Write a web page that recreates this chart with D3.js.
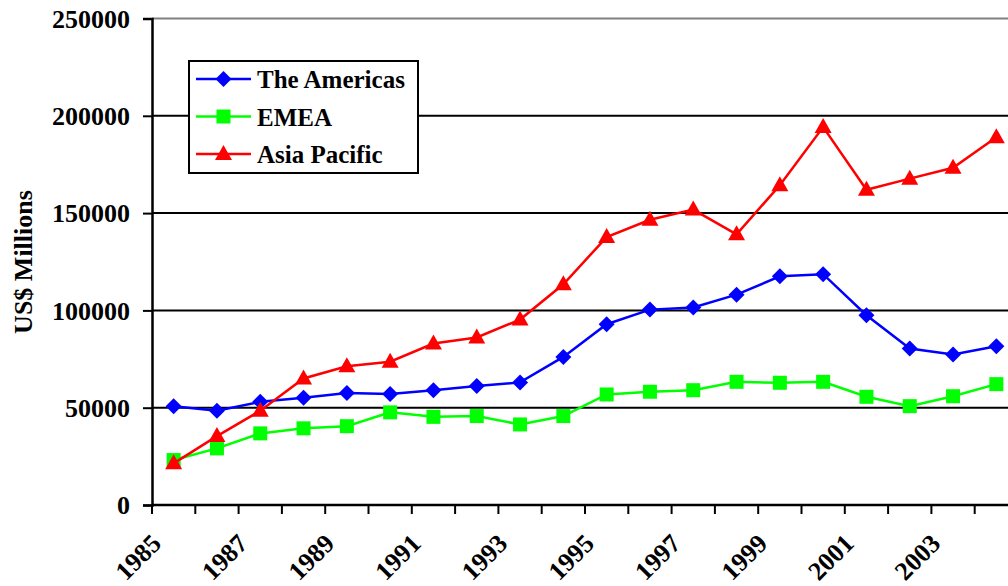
<!DOCTYPE html>
<html>
<head>
<meta charset="utf-8">
<script src="https://cdn.jsdelivr.net/npm/d3@7"></script>
<style>
  html, body { margin: 0; padding: 0; background: #fff; overflow: hidden; }
  svg { display: block; }
  text { font-family: "Liberation Serif", "Times New Roman", serif; font-weight: bold; fill: #000; }
</style>
</head>
<body>
<svg id="chart" width="1008" height="586"></svg>
<script>
// Revenue by region, US$ millions
const years = [1985, 1986, 1987, 1988, 1989, 1990, 1991, 1992, 1993, 1994,
               1995, 1996, 1997, 1998, 1999, 2000, 2001, 2002, 2003, 2004];
const americas = [50800, 48400, 53000, 55100, 57600, 57000, 59000, 61100, 63000, 76100,
                  92900, 100400, 101500, 108100, 117500, 118600, 97500, 80400, 77300, 81600];
const emea = [23100, 29100, 36800, 39400, 40500, 47600, 45300, 45700, 41400, 45700,
              56800, 58200, 59000, 63300, 62800, 63300, 55600, 50800, 55900, 62100];
const asiaPacific = [21400, 35400, 48400, 65000, 71300, 73600, 83000, 86100, 95300, 113400,
                     137700, 146600, 151800, 139100, 164300, 194200, 162000, 167700, 173300, 189000];
const yTicks = [0, 50000, 100000, 150000, 200000, 250000];
const seriesNames = ["The Americas", "EMEA", "Asia Pacific"];

const series = [
  { name: seriesNames[0], values: americas, color: "#0000FF", shape: "diamond" },
  { name: seriesNames[1], values: emea, color: "#00FF00", shape: "square" },
  { name: seriesNames[2], values: asiaPacific, color: "#FF0000", shape: "triangle" }
];

const svg = d3.select("#chart");
const plot = { left: 152, right: 1018, top: 18.5, bottom: 505 };

const x = d3.scaleBand().domain(years).range([plot.left, plot.right]);
const y = d3.scaleLinear().domain([0, 250000]).range([plot.bottom, plot.top]);
const cx = d => x(d) + x.bandwidth() / 2;

// Horizontal gridlines (top one is the plot frame, drawn grey)
svg.append("g").selectAll("line")
  .data(yTicks.filter(t => t > 0))
  .join("line")
  .attr("x1", plot.left).attr("x2", plot.right)
  .attr("y1", d => y(d)).attr("y2", d => y(d))
  .attr("stroke", d => d === 250000 ? "#808080" : "#000")
  .attr("stroke-width", 2);

// Y axis
const yAxis = svg.append("g")
  .attr("transform", `translate(${plot.left},0)`)
  .call(d3.axisLeft(y).tickValues(yTicks).tickSize(9).tickPadding(13).tickFormat(d3.format("d")));
yAxis.select(".domain").attr("stroke", "#000").attr("stroke-width", 2.5);
yAxis.selectAll(".tick line").attr("stroke", "#000").attr("stroke-width", 2);
yAxis.selectAll(".tick text")
  .attr("font-size", 26).attr("dy", "0.34em")
  .style("font-family", "'Liberation Serif', serif").style("font-weight", "bold");

// X axis: ticks at band edges, labels every other year
const xAxis = svg.append("g")
  .attr("transform", `translate(0,${plot.bottom})`);
xAxis.append("line")
  .attr("x1", plot.left).attr("x2", plot.right)
  .attr("stroke", "#000").attr("stroke-width", 2.5);
const edges = years.map(d => x(d)).concat([x(years[years.length - 1]) + x.bandwidth()]);
xAxis.selectAll("line.tick")
  .data(edges)
  .join("line")
  .attr("class", "tick")
  .attr("x1", d => d).attr("x2", d => d)
  .attr("y1", 0).attr("y2", 9)
  .attr("stroke", "#000").attr("stroke-width", 2);
xAxis.selectAll("text")
  .data(years.filter((d, i) => i % 2 === 0))
  .join("text")
  .attr("text-anchor", "end")
  .attr("font-size", 26)
  .attr("transform", d => `translate(${cx(d) - 11},${40}) rotate(-45)`)
  .text(d => d);

// Y axis title
svg.append("text")
  .attr("transform", `translate(32,262) rotate(-90)`)
  .attr("text-anchor", "middle")
  .attr("font-size", 26)
  .text("US$ Millions");

// Marker shapes
function marker(sel, shape, color) {
  if (shape === "diamond") {
    sel.append("path").attr("d", "M0,-8L8,0L0,8L-8,0Z").attr("fill", color);
  } else if (shape === "square") {
    sel.append("rect").attr("x", -7).attr("y", -7).attr("width", 14).attr("height", 14).attr("fill", color);
  } else {
    sel.append("path").attr("d", "M0,-9L8.5,6L-8.5,6Z").attr("fill", color);
  }
}

const line = d3.line().x((d, i) => cx(years[i])).y(d => y(d));

// Series lines and markers
series.forEach(s => {
  svg.append("path")
    .datum(s.values)
    .attr("d", line)
    .attr("fill", "none")
    .attr("stroke", s.color)
    .attr("stroke-width", 2.5);
  svg.append("g").selectAll("g")
    .data(s.values)
    .join("g")
    .attr("transform", (d, i) => `translate(${cx(years[i])},${y(d)})`)
    .each(function () { marker(d3.select(this), s.shape, s.color); });
});

// Legend
const legend = svg.append("g");
legend.append("rect")
  .attr("x", 189).attr("y", 61).attr("width", 229).attr("height", 112)
  .attr("fill", "#fff").attr("stroke", "#000").attr("stroke-width", 2);
series.forEach((s, i) => {
  const ly = 79 + i * 37.5;
  const g = legend.append("g");
  g.append("line")
    .attr("x1", 196).attr("x2", 251).attr("y1", ly).attr("y2", ly)
    .attr("stroke", s.color).attr("stroke-width", 2.5);
  const m = g.append("g").attr("transform", `translate(223.5,${ly})`);
  marker(m, s.shape, s.color);
  g.append("text")
    .attr("x", 257).attr("y", ly + 9)
    .attr("font-size", 25)
    .text(s.name);
});
</script>
</body>
</html>
